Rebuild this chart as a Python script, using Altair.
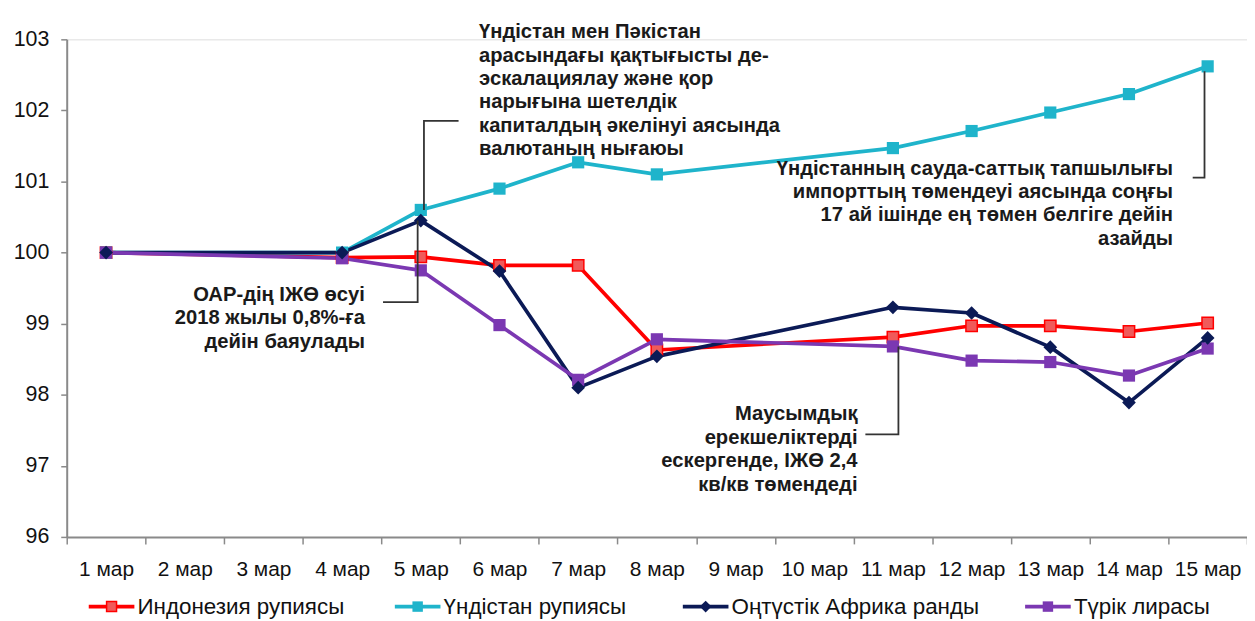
import altair as alt
import pandas as pd

# ---------------- data ----------------
all_dates = ["1 мар", "2 мар", "3 мар", "4 мар", "5 мар", "6 мар", "7 мар", "8 мар",
             "9 мар", "10 мар", "11 мар", "12 мар", "13 мар", "14 мар", "15 мар"]
obs_dates = ["1 мар", "4 мар", "5 мар", "6 мар", "7 мар", "8 мар",
             "11 мар", "12 мар", "13 мар", "14 мар", "15 мар"]

series_names = ["Индонезия  рупиясы", "Үндістан  рупиясы", "Оңтүстік  Африка  ранды", "Түрік лирасы"]
idr = [100.00, 99.93, 99.94, 99.82, 99.82, 98.63, 98.81, 98.97, 98.97, 98.89, 99.01]
inr = [100.00, 100.00, 100.60, 100.90, 101.27, 101.10, 101.47, 101.71, 101.97, 102.23, 102.62]
zar = [100.00, 100.00, 100.45, 99.74, 98.10, 98.54, 99.23, 99.15, 98.67, 97.89, 98.80]
tur = [100.00, 99.92, 99.75, 98.98, 98.21, 98.78, 98.68, 98.48, 98.46, 98.27, 98.65]
colors = ["#FF0000", "#1FB4CB", "#0B1A56", "#7B38B2"]

y_ticks = [96, 97, 98, 99, 100, 101, 102, 103]

ann_texts = [
    "Үндістан мен Пәкістан\nарасындағы қақтығысты де-\nэскалациялау және қор\nнарығына шетелдік\nкапиталдың әкелінуі аясында\nвалютаның нығаюы",
    "ОАР-дің ІЖӨ өсуі\n2018 жылы 0,8%-ға\nдейін баяулады",
    "Үндістанның сауда-саттық тапшылығы\nимпорттың  төмендеуі аясында соңғы\n17 ай ішінде  ең төмен  белгіге дейін\nазайды",
    "Маусымдық\nерекшеліктерді\nескергенде,  ІЖӨ 2,4\nкв/кв төмендеді",
]

# ---------------- layout (positions in band units / value units) ----------------
W, H = 1186, 500
NB = len(all_dates)
ymin, ymax = 96, 103
px_per_unit_y = H / (ymax - ymin)

def vy(px_from_top):
    return ymax - px_from_top / px_per_unit_y

rows = []
for s, vals in zip(series_names, [idr, inr, zar, tur]):
    for d, v in zip(obs_dates, vals):
        rows.append({"date": d, "idx": all_dates.index(d), "value": v, "series": s})
df = pd.DataFrame(rows)

FONT = "Liberation Sans"

xscale = alt.Scale(type="band", domain=all_dates, paddingInner=0, paddingOuter=0)
yscale = alt.Scale(domain=[ymin, ymax], nice=False, zero=False)
cscale = alt.Scale(domain=series_names, range=colors)
yaxis = alt.Axis(values=y_ticks, labelFontSize=21.5, labelFont=FONT, labelColor="#111111",
                 labelPadding=12, tickSize=6, tickWidth=1.5, tickColor="#8a8a8a",
                 domainColor="#8a8a8a", domainWidth=2, grid=False, title=None)

base = alt.Chart(df).encode(
    x=alt.X("date:O", scale=xscale, sort=all_dates, bandPosition=0.5, title=None,
            axis=alt.Axis(tickBand="extent", labelAngle=0, labelFontSize=21, labelFont=FONT,
                          labelColor="#111111", labelPadding=15, tickSize=7, tickWidth=1.5,
                          tickColor="#8a8a8a", domainColor="#8a8a8a", domainWidth=2,
                          grid=False)),
    y=alt.Y("value:Q", scale=yscale, title=None, axis=yaxis),
    color=alt.Color("series:N", scale=cscale, legend=None),
    order=alt.Order("idx:Q"),
)

lines = base.mark_line(strokeWidth=3.7, strokeJoin="round")
sq = base.transform_filter(
    alt.FieldOneOfPredicate(field="series", oneOf=[series_names[1], series_names[3]])
).mark_square(size=150, opacity=1)
red_sq = base.transform_filter(alt.datum.series == series_names[0]).mark_square(
    size=130, opacity=1, fill="#F05A5A", stroke="#FF0000", strokeWidth=1.5)
dia = base.transform_filter(alt.datum.series == series_names[2]).mark_point(
    shape="diamond", filled=True, size=190, opacity=1)

main = alt.layer(lines, red_sq, sq, dia)

# ---------- annotations (band-unit x scale) ----------
axq = alt.Scale(domain=[0, NB], nice=False, zero=False)

def X(field):
    return alt.X(f"{field}:Q", scale=axq, axis=None, title=None)

def Y(field):
    return alt.Y(f"{field}:Q", scale=yscale, axis=yaxis, title=None)

LH = 23.5
AFS = 20.3
ann_left = pd.DataFrame({"x": [5.24], "y": [vy(37 - 38)], "t": [ann_texts[0]]})
ann_right = pd.DataFrame({
    "x": [3.79, 14.06, 10.05],
    "y": [vy(301 - 38), vy(174 - 38), vy(421 - 38)],
    "t": [ann_texts[1], ann_texts[2], ann_texts[3]],
})
t_left = alt.Chart(ann_left).mark_text(align="left", baseline="alphabetic", lineBreak="\n",
                                       lineHeight=LH, fontSize=AFS, fontWeight="bold",
                                       font=FONT, color="#1a1a1a").encode(
    x=X("x"), y=Y("y"), text="t:N")
t_right = alt.Chart(ann_right).mark_text(align="right", baseline="alphabetic", lineBreak="\n",
                                         lineHeight=LH, fontSize=AFS, fontWeight="bold",
                                         font=FONT, color="#1a1a1a").encode(
    x=X("x"), y=Y("y"), text="t:N")

# connectors: (id, order, x, y)
conn = pd.DataFrame([
    (1, 0, 4.98, vy(120 - 38)), (1, 1, 4.54, vy(120 - 38)), (1, 2, 4.54, 100.60),
    (2, 0, 4.02, vy(302 - 38)), (2, 1, 4.46, vy(302 - 38)), (2, 2, 4.46, 100.45),
    (3, 0, 10.15, vy(435 - 38)), (3, 1, 10.57, vy(435 - 38)), (3, 2, 10.57, 98.68),
    (4, 0, 14.31, vy(177 - 38)), (4, 1, 14.46, vy(177 - 38)), (4, 2, 14.46, 102.55),
], columns=["cid", "o", "x", "y"])
connectors = alt.Chart(conn).mark_line(color="#333333", strokeWidth=1.8).encode(
    x=X("x"), y=Y("y"), detail="cid:N", order="o:Q")

# legend
leg_x = [0.28, 4.17, 7.83, 12.18]
seg = 0.58
leg = pd.DataFrame({"series": series_names, "x": leg_x,
                    "x2": [v + seg for v in leg_x], "xm": [v + seg / 2 for v in leg_x],
                    "xt": [v + seg + 0.04 for v in leg_x],
                    "y": [vy(608 - 38)] * 4})
lcol = alt.Color("series:N", scale=cscale, legend=None)
leg_rule = alt.Chart(leg).mark_rule(strokeWidth=3.7).encode(
    x=X("x"), x2="x2:Q", y=Y("y"), color=lcol)
leg_sq = alt.Chart(leg).transform_filter(
    alt.FieldOneOfPredicate(field="series", oneOf=[series_names[1], series_names[3]])
).mark_square(size=110, opacity=1).encode(x=X("xm"), y=Y("y"), color=lcol)
leg_red = alt.Chart(leg).transform_filter(alt.datum.series == series_names[0]).mark_square(
    size=100, opacity=1, fill="#F05A5A", stroke="#FF0000", strokeWidth=1.5).encode(
    x=X("xm"), y=Y("y"))
leg_dia = alt.Chart(leg).transform_filter(alt.datum.series == series_names[2]).mark_point(
    shape="diamond", filled=True, size=140, opacity=1).encode(x=X("xm"), y=Y("y"), color=lcol)
leg_text = alt.Chart(leg).mark_text(align="left", baseline="middle", fontSize=22.5, font=FONT,
                                    color="#111111").encode(
    x=X("xt"), y=Y("y"), text="series:N")

annot = alt.layer(connectors, t_left, t_right, leg_rule, leg_red, leg_sq, leg_dia, leg_text)

chart = alt.layer(main, annot).resolve_scale(x="independent").properties(
    width=W, height=H,
    autosize=alt.AutoSizeParams(type="none"),
    padding={"left": 59, "top": 30, "right": 0, "bottom": 83},
).configure_view(stroke=None).configure(background="white")

chart.save("out.html", embed_options={"renderer": "svg", "actions": False})
